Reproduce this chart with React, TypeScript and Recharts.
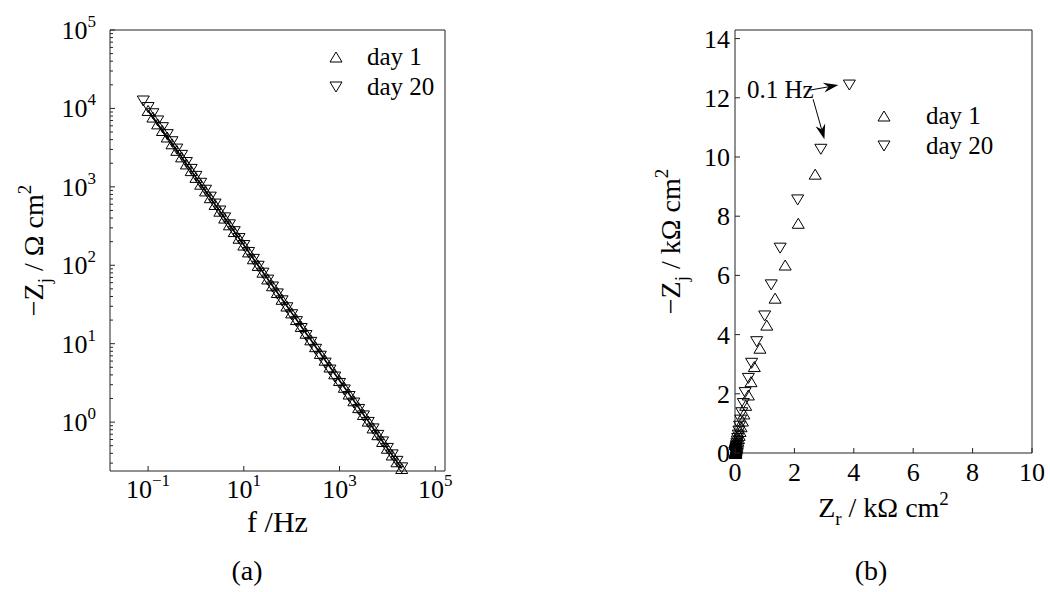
import { Legend, ReferenceDot, ReferenceLine, Scatter, ScatterChart, XAxis, YAxis } from 'recharts';

const FONT = '"Liberation Serif", "Times New Roman", serif';
const INK = '#000';
const FRAME = '#222';

// frequencies, 10 per decade, 10^-1.1 .. 10^4.3 Hz
const freqHz = [
  0.0794, 0.1, 0.1259, 0.1585, 0.1995, 0.2512, 0.3162, 0.3981, 0.5012, 0.631,
  0.7943, 1, 1.259, 1.585, 1.995, 2.512, 3.162, 3.981, 5.012, 6.31,
  7.943, 10, 12.59, 15.85, 19.95, 25.12, 31.62, 39.81, 50.12, 63.1,
  79.43, 100, 125.9, 158.5, 199.5, 251.2, 316.2, 398.1, 501.2, 631,
  794.3, 1000, 1259, 1585, 1995, 2512, 3162, 3981, 5012, 6310,
  7943, 10000, 12590, 15850, 19950,
];

// -Zj in ohm cm2 ; day 1 starts at 0.1 Hz, day 20 at 0.0794 Hz
const zjDay1 = [
  9420, 7760, 6350, 5230, 4320, 3540, 2920, 2410, 1960, 1610,
  1320, 1080, 887, 727, 596, 489, 400, 328, 269, 221,
  181, 148, 121, 99.5, 81.6, 66.9, 54.8, 44.9, 36.8, 30.2,
  24.7, 20.3, 16.6, 13.6, 11.2, 9.16, 7.51, 6.15, 5.04, 4.13,
  3.39, 2.78, 2.28, 1.87, 1.53, 1.25, 1.03, 0.843, 0.691, 0.566,
  0.464, 0.381, 0.312, 0.256,
];
const zjDay20 = [
  12430, 10260, 8550, 6920, 5680, 4630, 3760, 3030, 2520, 2040,
  1670, 1360, 1110, 905, 739, 603, 492, 402, 328, 268,
  219, 178.5, 145.7, 118.9, 97.1, 79.3, 64.7, 52.8, 43.1, 35.2,
  28.7, 23.4, 19.1, 15.6, 12.7, 10.4, 8.48, 6.92, 5.65, 4.61,
  3.76, 3.11, 2.57, 2.12, 1.75, 1.45, 1.2, 0.991, 0.819, 0.677,
  0.559, 0.462, 0.382, 0.316, 0.261,
];

// Zr in kohm cm2, same frequency order
const zrDay1 = [
  2.7, 2.13, 1.69, 1.35, 1.07, 0.84, 0.65, 0.54, 0.45, 0.36,
  0.3, 0.25, 0.205, 0.17, 0.14, 0.118, 0.099, 0.083, 0.071, 0.06,
  0.051, 0.044, 0.038, 0.033, 0.029, 0.026, 0.024, 0.022, 0.02, 0.019,
  0.018, 0.017, 0.016, 0.016, 0.015, 0.015, 0.014, 0.014, 0.014, 0.013,
  0.013, 0.013, 0.013, 0.013, 0.012, 0.012, 0.012, 0.012, 0.012, 0.012,
  0.012, 0.012, 0.012, 0.012,
];
const zrDay20 = [
  3.85, 2.89, 2.11, 1.52, 1.22, 1.0, 0.73, 0.56, 0.45, 0.34,
  0.28, 0.23, 0.19, 0.155, 0.13, 0.11, 0.092, 0.078, 0.066, 0.056,
  0.048, 0.041, 0.036, 0.031, 0.028, 0.025, 0.023, 0.021, 0.019, 0.018,
  0.017, 0.016, 0.016, 0.015, 0.015, 0.014, 0.014, 0.014, 0.013, 0.013,
  0.013, 0.013, 0.012, 0.012, 0.012, 0.012, 0.012, 0.012, 0.012, 0.012,
  0.012, 0.012, 0.012, 0.012, 0.012,
];

const bodeXTicks = [0.1, 10, 1000, 100000];
const bodeYMajor = [1, 10, 100, 1000, 10000, 100000];
const bodeYTicks: number[] = [];
for (let e = -1; e <= 4; e++) {
  for (let m = 1; m <= 9; m++) {
    const v = m * Math.pow(10, e);
    if (v >= 0.24 && v <= 100000) bodeYTicks.push(v);
  }
}
bodeYTicks.push(100000);
const nyqXTicks = [0, 2, 4, 6, 8, 10];
const nyqYTicks = [0, 2, 4, 6, 8, 10, 12, 14];

const bodeDay1 = freqHz.slice(1).map((f, i) => ({ f, z: zjDay1[i] }));
const bodeDay20 = freqHz.map((f, i) => ({ f, z: zjDay20[i] }));
const nyqDay1 = zrDay1.map((zr, i) => ({ zr, zj: zjDay1[i] / 1000 }));
const nyqDay20 = zrDay20.map((zr, i) => ({ zr, zj: zjDay20[i] / 1000 }));

const TICK_FS = 26;
const SUP_FS = 17;

const tri = (cx: number, cy: number, up: boolean) =>
  up
    ? `${cx},${cy - 5} ${cx + 6},${cy + 5} ${cx - 6},${cy + 5}`
    : `${cx - 6},${cy - 5} ${cx + 6},${cy - 5} ${cx},${cy + 5}`;

const TriUp = (p: any) => <polygon points={tri(p.cx, p.cy, true)} fill="none" stroke={INK} strokeWidth={1} />;
const TriDown = (p: any) => <polygon points={tri(p.cx, p.cy, false)} fill="none" stroke={INK} strokeWidth={1} />;

const isMajor = (v: number) => bodeYMajor.includes(v) || bodeXTicks.includes(v);
const expo = (v: number) => {
  const e = Math.round(Math.log10(v));
  return e < 0 ? `\u2212${-e}` : `${e}`;
};

// tick renderers: ticks drawn inward, labels outside
const BodeBottomTick = (p: any) => (
  <g>
    <line x1={p.x} x2={p.x} y1={p.y} y2={p.y - 5} stroke={FRAME} />
    <text x={p.x} y={p.y + 27} textAnchor="middle" fontFamily={FONT} fontSize={TICK_FS} fill={INK}>
      10<tspan dy={-12} fontSize={SUP_FS}>{expo(p.payload.value)}</tspan>
    </text>
  </g>
);
const BodeTopTick = (p: any) => <line x1={p.x} x2={p.x} y1={p.y} y2={p.y + 5} stroke={FRAME} />;
const BodeLeftTick = (p: any) => {
  const major = isMajor(p.payload.value);
  return (
    <g>
      <line x1={p.x} x2={p.x + (major ? 5 : 3)} y1={p.y} y2={p.y} stroke={FRAME} />
      {major && (
        <text x={p.x - 14} y={p.y + 9} textAnchor="end" fontFamily={FONT} fontSize={TICK_FS} fill={INK}>
          10<tspan dy={-12} fontSize={SUP_FS}>{expo(p.payload.value)}</tspan>
        </text>
      )}
    </g>
  );
};
const BodeRightTick = (p: any) => {
  const major = isMajor(p.payload.value);
  return <line x1={p.x} x2={p.x - (major ? 5 : 3)} y1={p.y} y2={p.y} stroke={FRAME} />;
};

const NyqBottomTick = (p: any) => (
  <g>
    <line x1={p.x} x2={p.x} y1={p.y} y2={p.y - 5} stroke={FRAME} />
    <text x={p.x} y={p.y + 28} textAnchor="middle" fontFamily={FONT} fontSize={TICK_FS} fill={INK}>
      {p.payload.value}
    </text>
  </g>
);
const NyqTopTick = (p: any) => <line x1={p.x} x2={p.x} y1={p.y} y2={p.y + 5} stroke={FRAME} />;
const NyqLeftTick = (p: any) => (
  <g>
    <line x1={p.x} x2={p.x + 5} y1={p.y} y2={p.y} stroke={FRAME} />
    <text x={p.x - 5} y={p.y + 9} textAnchor="end" fontFamily={FONT} fontSize={TICK_FS} fill={INK}>
      {p.payload.value}
    </text>
  </g>
);
const NyqRightTick = (p: any) => <line x1={p.x} x2={p.x - 5} y1={p.y} y2={p.y} stroke={FRAME} />;

const Arrow = (p: any) => {
  const { x1, y1, x2, y2 } = p;
  const L = Math.hypot(x2 - x1, y2 - y1);
  const ux = (x2 - x1) / L;
  const uy = (y2 - y1) / L;
  const nx = -uy;
  const ny = ux;
  const bx = x2 - ux * 15;
  const by = y2 - uy * 15;
  const ix = x2 - ux * 10;
  const iy = y2 - uy * 10;
  return (
    <g>
      <line x1={x1} y1={y1} x2={ix} y2={iy} stroke={INK} strokeWidth={1} />
      <polygon
        points={`${x2},${y2} ${bx + nx * 5},${by + ny * 5} ${ix},${iy} ${bx - nx * 5},${by - ny * 5}`}
        fill={INK}
      />
    </g>
  );
};

const LegendBox = ({ gap }: { gap: number }) => (
  <svg width={170} height={80} style={{ overflow: 'visible' }}>
    <polygon points={tri(18, 18, true)} fill="none" stroke={INK} />
    <text x={18 + gap} y={26} fontFamily={FONT} fontSize={25} fill={INK}>day 1</text>
    <polygon points={tri(18, 48, false)} fill="none" stroke={INK} />
    <text x={18 + gap} y={56} fontFamily={FONT} fontSize={25} fill={INK}>day 20</text>
  </svg>
);

const BodeXLabel = (props: any) => {
  const vb = props.viewBox;
  return (
    <g fontFamily={FONT} fill={INK}>
      <text x={vb.x + vb.width / 2} y={vb.y + 61} textAnchor="middle" fontSize={30}>f /Hz</text>
      <text x={vb.x + 137} y={vb.y + 109} textAnchor="middle" fontSize={28}>(a)</text>
    </g>
  );
};
const BodeYLabel = (props: any) => {
  const vb = props.viewBox;
  const x = vb.x - 66;
  const y = vb.y + vb.height / 2;
  return (
    <text x={x} y={y} transform={`rotate(-90, ${x}, ${y})`} textAnchor="middle" fontFamily={FONT} fontSize={28} fill={INK}>
      {'\u2212Z'}
      <tspan dy={8} fontSize={19}>j</tspan>
      <tspan dy={-8}>{' / \u03A9 cm'}</tspan>
      <tspan dy={-12} fontSize={19}>2</tspan>
    </text>
  );
};
const NyqXLabel = (props: any) => {
  const vb = props.viewBox;
  return (
    <g fontFamily={FONT} fill={INK}>
      <text x={vb.x + vb.width / 2} y={vb.y + 64} textAnchor="middle" fontSize={28}>
        Z<tspan dy={8} fontSize={19}>r</tspan>
        <tspan dy={-8}>{' / k\u03A9 cm'}</tspan>
        <tspan dy={-12} fontSize={19}>2</tspan>
      </text>
      <text x={vb.x + 136} y={vb.y + 127} textAnchor="middle" fontSize={28}>(b)</text>
    </g>
  );
};
const NyqYLabel = (props: any) => {
  const vb = props.viewBox;
  const x = vb.x - 54;
  const y = vb.y + vb.height / 2;
  return (
    <text x={x} y={y} transform={`rotate(-90, ${x}, ${y})`} textAnchor="middle" fontFamily={FONT} fontSize={28} fill={INK}>
      {'\u2212Z'}
      <tspan dy={8} fontSize={19}>j</tspan>
      <tspan dy={-8}>{' / k\u03A9 cm'}</tspan>
      <tspan dy={-12} fontSize={19}>2</tspan>
    </text>
  );
};

// axes are 1px thick so that recharts still draws them
const axisCommon = {
  type: 'number' as const,
  tickSize: 0,
  tickMargin: 0,
  tickLine: false,
  interval: 0 as const,
  axisLine: { stroke: FRAME, strokeWidth: 1 },
};

export default function App() {
  return (
    <div style={{ position: 'absolute', left: 0, top: 0, width: 1050, height: 592, background: '#fff' }}>
      <div style={{ position: 'absolute', left: 0, top: 0 }}>
        <ScatterChart width={525} height={592} margin={{ top: 29, right: 79, bottom: 120, left: 109 }}>
          <XAxis {...axisCommon} dataKey="f" scale="log" domain={[0.016, 160000]} ticks={bodeXTicks}
            height={1} tick={BodeBottomTick} label={BodeXLabel} />
          <XAxis {...axisCommon} xAxisId="top" orientation="top" scale="log" domain={[0.016, 160000]}
            ticks={bodeXTicks} height={1} tick={BodeTopTick} />
          <YAxis {...axisCommon} dataKey="z" scale="log" domain={[0.238, 100000]} ticks={bodeYTicks}
            width={1} tick={BodeLeftTick} label={BodeYLabel} />
          <YAxis {...axisCommon} yAxisId="right" orientation="right" scale="log" domain={[0.238, 100000]}
            ticks={bodeYTicks} width={1} tick={BodeRightTick} />
          <Scatter name="day 1" data={bodeDay1} shape={TriUp} isAnimationActive={false} />
          <Scatter name="day 20" data={bodeDay20} shape={TriDown} isAnimationActive={false} />
          <Scatter data={bodeDay1} line={{ stroke: INK, strokeWidth: 1.6 }} shape={() => <g />}
            legendType="none" isAnimationActive={false} />
          <Legend layout="vertical" align="center" verticalAlign="middle"
            wrapperStyle={{ left: 318, top: 39, width: 170, height: 80 }} content={() => <LegendBox gap={31} />} />
        </ScatterChart>
      </div>
      <div style={{ position: 'absolute', left: 525, top: 0 }}>
        <ScatterChart width={525} height={592} margin={{ top: 29, right: 17, bottom: 138, left: 209 }}>
          <XAxis {...axisCommon} dataKey="zr" domain={[0, 10]} ticks={nyqXTicks} height={1}
            tick={NyqBottomTick} label={NyqXLabel} />
          <XAxis {...axisCommon} xAxisId="top" orientation="top" domain={[0, 10]} ticks={nyqXTicks}
            height={1} tick={NyqTopTick} />
          <YAxis {...axisCommon} dataKey="zj" domain={[0, 14.29]} ticks={nyqYTicks} width={1}
            tick={NyqLeftTick} label={NyqYLabel} />
          <YAxis {...axisCommon} yAxisId="right" orientation="right" domain={[0, 14.29]} ticks={nyqYTicks}
            width={1} tick={NyqRightTick} />
          <Scatter name="day 1" data={nyqDay1} shape={TriUp} isAnimationActive={false} />
          <Scatter name="day 20" data={nyqDay20} shape={TriDown} isAnimationActive={false} />
          <ReferenceLine segment={[{ x: 2.53, y: 12.26 }, { x: 3.48, y: 12.43 }]} shape={Arrow} />
          <ReferenceLine segment={[{ x: 2.63, y: 11.95 }, { x: 3.01, y: 10.6 }]} shape={Arrow} />
          <ReferenceDot x={0.4} y={11.98} r={0}
            shape={(p: any) => (
              <text x={p.cx} y={p.cy} fontFamily={FONT} fontSize={25} fill={INK}>0.1 Hz</text>
            )} />
          <Legend layout="vertical" align="center" verticalAlign="middle"
            wrapperStyle={{ left: 341, top: 98, width: 170, height: 80 }} content={() => <LegendBox gap={42} />} />
        </ScatterChart>
      </div>
    </div>
  );
}
